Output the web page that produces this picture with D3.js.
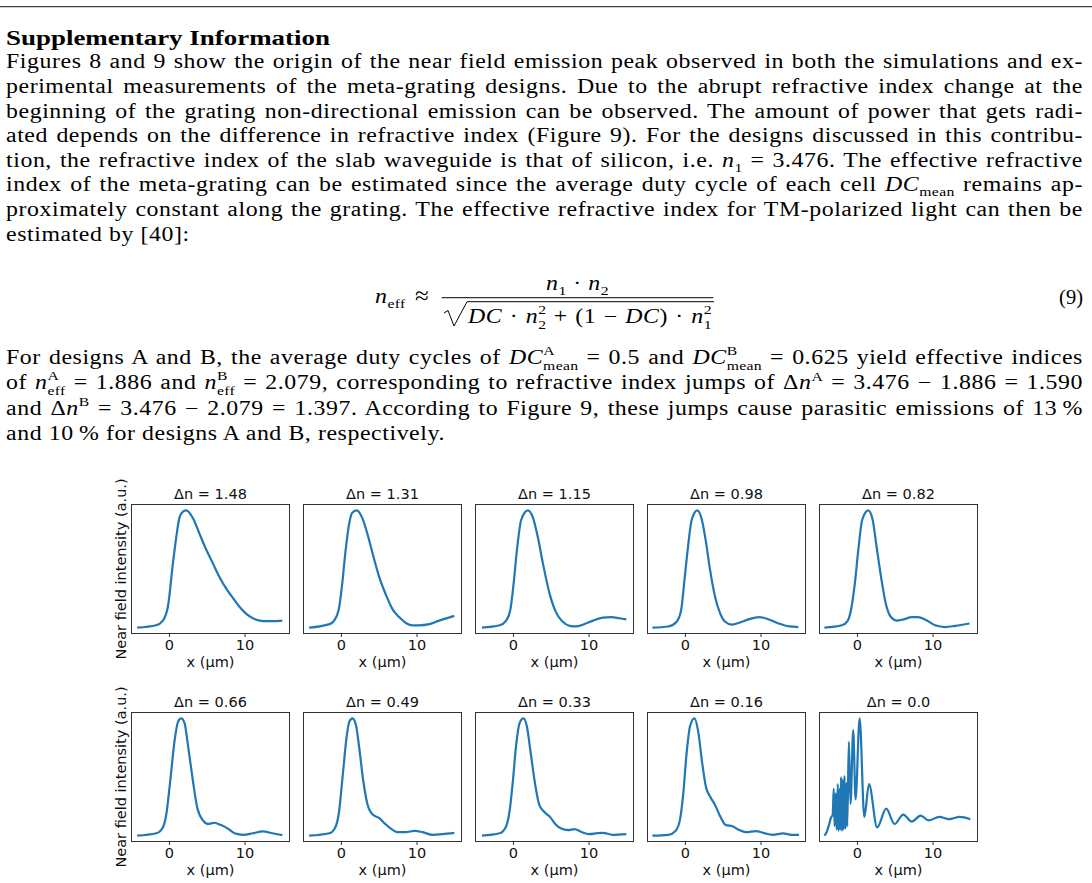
<!DOCTYPE html>
<html>
<head>
<meta charset="utf-8">
<script src="https://cdn.jsdelivr.net/npm/d3@7"></script>
<style>
  html, body { margin: 0; padding: 0; background: #fff; }
  svg { display: block; }
  .body { font-family: "Liberation Serif", "Times New Roman", serif; font-size: 20.5px; fill: #000; letter-spacing: 0.5px; }
  .plot text { font-family: "DejaVu Sans", sans-serif; font-size: 14.5px; fill: #111; }
</style>
</head>
<body>
<svg id="chart" width="1092" height="883"></svg>
<script>
// ---------------- DATA ----------------
const deltaN = ["1.48", "1.31", "1.15", "0.98", "0.82", "0.66", "0.49", "0.33", "0.16", "0.0"];
const xTicks = [0, 10];

const x_148 = [-4.2,-1.7,-0.8,-0.13,0.53,0.97,1.4,1.85,2.3,3.2,4.05,4.9,5.8,6.7,7.6,8.5,9.3,10.2,11.1,12,12.9,13.7,15];
const y_148 = [0,0.02,0.06,0.18,0.55,0.77,0.94,0.99,1.0,0.93,0.80,0.67,0.55,0.43,0.33,0.25,0.18,0.12,0.08,0.06,0.055,0.055,0.06];

const x_131 = [-4.2,-1.5,-0.9,-0.3,0.13,0.57,1.1,1.5,2.07,2.86,3.5,4.2,5.07,5.95,6.8,7.7,8.6,9.5,10.35,11.7,13,15];
const y_131 = [0,0.03,0.06,0.15,0.35,0.63,0.89,0.98,1.0,0.93,0.80,0.63,0.43,0.28,0.16,0.09,0.04,0.02,0.02,0.03,0.06,0.10];

const x_115 = [-4.1,-1.76,-0.9,-0.35,0.1,0.53,1.1,1.98,2.64,3.3,3.96,4.85,5.7,6.6,7.5,8.4,9.25,10.6,11.9,13,14.1,15];
const y_115 = [0,0.02,0.06,0.15,0.38,0.66,0.92,1.0,0.94,0.77,0.55,0.29,0.13,0.05,0.015,0.01,0.025,0.06,0.085,0.09,0.08,0.07];

const x_098 = [-4.3,-2.2,-1.1,-0.5,-0.1,0.36,0.9,1.64,2.2,2.76,3.33,4.0,4.67,5.33,6.2,7.1,8.4,9.8,11.1,12.4,13.8,15];
const y_098 = [0,0.01,0.05,0.15,0.38,0.66,0.92,1.0,0.93,0.74,0.49,0.26,0.12,0.05,0.025,0.04,0.07,0.09,0.07,0.035,0.01,0.005];

const x_082 = [-4.3,-2.0,-1.2,-0.7,-0.27,0.18,0.7,1.5,2.08,2.6,3.2,3.8,4.5,5.3,6.15,7.26,8.1,9.0,10.35,11.7,13,14.9];
const y_082 = [0,0.02,0.06,0.18,0.38,0.66,0.92,1.0,0.92,0.69,0.43,0.21,0.09,0.06,0.07,0.09,0.09,0.07,0.02,0.005,0.015,0.035];

const x_066 = [-4.2,-1.67,-0.8,-0.35,0.18,0.75,1.2,1.63,2.07,2.5,3.1,3.74,4.5,5.15,6.0,6.9,7.8,8.7,9.8,11.1,12.4,13.7,15];
const y_066 = [0,0.02,0.07,0.18,0.47,0.81,0.97,1.0,0.96,0.78,0.50,0.24,0.13,0.10,0.11,0.09,0.06,0.02,0.007,0.02,0.036,0.02,0.004];

const x_049 = [-4.2,-1.54,-0.75,-0.3,0.22,0.75,1.1,1.54,2.0,2.4,2.95,3.5,4.2,5.07,5.86,6.6,7.5,8.6,9.7,10.8,12.1,13.4,15];
const y_049 = [0,0.02,0.07,0.18,0.5,0.84,0.97,1.0,0.94,0.76,0.47,0.27,0.18,0.15,0.10,0.06,0.03,0.03,0.04,0.03,0.007,0.013,0.024];

const x_033 = [-4.1,-1.76,-0.97,-0.44,0,0.44,0.88,1.4,1.85,2.3,2.86,3.5,4.2,4.9,5.6,6.4,7.3,8.15,9.0,10.1,11.2,11.9,13.2,15];
const y_033 = [0,0.02,0.07,0.21,0.47,0.78,0.96,1.0,0.93,0.73,0.47,0.26,0.2,0.16,0.10,0.06,0.047,0.056,0.033,0.013,0.021,0.024,0.007,0.013];

const x_016 = [-4.3,-2.2,-1.25,-0.67,-0.22,0.22,0.67,1.25,1.8,2.24,2.8,3.36,4.0,4.7,5.4,6.3,7.2,8.07,9.4,10.5,11.6,13,14.1,15.1];
const y_016 = [0,0.007,0.04,0.13,0.36,0.70,0.93,1.0,0.87,0.64,0.41,0.33,0.26,0.16,0.09,0.08,0.047,0.03,0.039,0.021,0.007,0.019,0.007,0.007];

const x_000 = [-4.3,-4.0,-3.7,-3.45,-3.2,-3.07,-2.95,-2.8,-2.67,-2.53,-2.42,-2.3,-2.2,-2.1,-1.98,-1.86,-1.75,-1.64,-1.52,-1.4,-1.28,-1.07,-0.85,-0.49,-0.18,0.36,0.98,1.6,2.67,3.87,4.98,6.13,7.24,8.44,9.47,10.9,12.2,13.6,15.0];
const y_000 = [0,0.03,0.09,0.15,0.18,0.40,0.08,0.36,0.05,0.44,0.04,0.40,0.05,0.50,0.04,0.48,0.05,0.51,0.06,0.45,0.08,0.80,0.27,0.90,0.31,1.0,0.16,0.44,0.07,0.23,0.10,0.18,0.12,0.17,0.13,0.16,0.14,0.16,0.14];

const seriesX = [x_148, x_131, x_115, x_098, x_082, x_066, x_049, x_033, x_016, x_000];
const seriesY = [y_148, y_131, y_115, y_098, y_082, y_066, y_049, y_033, y_016, y_000];

// ---------------- TEXT ----------------
const heading = "Supplementary Information";
const para1 = [
  ["Figures 8 and 9 show the origin of the near field emission peak observed in both the simulations and ex-"],
  ["perimental measurements of the meta-grating designs. Due to the abrupt refractive index change at the"],
  ["beginning of the grating non-directional emission can be observed. The amount of power that gets radi-"],
  ["ated depends on the difference in refractive index (Figure 9). For the designs discussed in this contribu-"],
  ["tion, the refractive index of the slab waveguide is that of silicon, i.e. ", ["i","n"], ["sub","1"], " = 3.476. The effective refractive"],
  ["index of the meta-grating can be estimated since the average duty cycle of each cell ", ["i","DC"], ["sub","mean"], " remains ap-"],
  ["proximately constant along the grating. The effective refractive index for TM-polarized light can then be"],
  ["estimated by [40]:"]
];
const para2 = [
  ["For designs A and B, the average duty cycles of ", ["i","DC"], ["ss","A","mean"], " = 0.5 and ", ["i","DC"], ["ss","B","mean"], " = 0.625 yield effective indices"],
  ["of ", ["i","n"], ["ss","A","eff"], " = 1.886 and ", ["i","n"], ["ss","B","eff"], " = 2.079, corresponding to refractive index jumps of Δ", ["i","n"], ["sup","A"], " = 3.476 − 1.886 = 1.590"],
  ["and Δ", ["i","n"], ["sup","B"], " = 3.476 − 2.079 = 1.397. According to Figure 9, these jumps cause parasitic emissions of 13\u2009%"],
  ["and 10\u2009% for designs A and B, respectively."]
];

// ---------------- DRAW ----------------
const svg = d3.select("#chart");

svg.append("line").attr("x1", 0).attr("x2", 1092).attr("y1", 6.7).attr("y2", 6.7)
  .attr("stroke", "#444").attr("stroke-width", 1.3);

svg.append("text").attr("class", "body").attr("x", 6).attr("y", 45)
  .style("font-weight", "bold").style("letter-spacing", "0px")
  .attr("textLength", 324).attr("lengthAdjust", "spacingAndGlyphs").text(heading);

let SX = 1;  // horizontal glyph scale (Computer Modern is wider than Times)

function build(parent, segs, anchor) {
  const t = parent.append("text").attr("class", "body").attr("x", 0).attr("y", 0);
  if (anchor) t.attr("text-anchor", anchor);
  let off = 0;
  const pend = [];
  const small = (sel) => sel.attr("font-size", 13.5).style("letter-spacing", "0.3px");
  segs.forEach(s => {
    if (typeof s === "string") { t.append("tspan").attr("dy", -off).text(s); off = 0; }
    else if (s[0] === "i") { t.append("tspan").attr("dy", -off).style("font-style", "italic").text(s[1]); off = 0; }
    else if (s[0] === "sub") { small(t.append("tspan").attr("dy", 5 - off)).text(s[1]); off = 5; }
    else if (s[0] === "sup") { small(t.append("tspan").attr("dy", -8.5 - off)).text(s[1]); off = -8.5; }
    else if (s[0] === "ss") {
      const sp = small(t.append("tspan").attr("dy", -9 - off)).text(s[1]);
      const sb = small(t.append("tspan").attr("dy", 15)).text(s[2]);
      pend.push([sp, sb]); off = 6;
    }
  });
  pend.forEach(([sp, sb]) => sb.attr("dx", -sp.node().getComputedTextLength()));
  return t;
}
function rich(parent, x, y, segs, width, anchor) {
  const t = build(parent, segs, anchor);
  t.attr("transform", `translate(${x},${y}) scale(${SX},1)`);
  if (width) {
    const bb = t.node().getBBox();
    const nat = bb.x + bb.width;
    const nsp = (t.node().textContent.match(/ /g) || []).length;
    if (nsp > 0) t.style("word-spacing", ((width / SX - nat) / nsp) + "px");
  }
  return t;
}

// calibrate the glyph scale on the last line of the second paragraph (ends at x≈445)
{
  const probe = build(svg, para2[para2.length - 1]);
  const bb = probe.node().getBBox();
  SX = 439 / (bb.x + bb.width);
  probe.remove();
}

const left = 6, right = 1083;
para1.forEach((segs, i) => {
  rich(svg, left, 68.3 + 24.6 * i, segs, i < para1.length - 1 ? right - left : null);
});
const p2y = [363.5, 389, 414.5, 440];
para2.forEach((segs, i) => {
  rich(svg, left, p2y[i], segs, i < para2.length - 1 ? right - left : null);
});

// Equation
const eq = svg.append("g");
rich(eq, 375, 303, [["i","n"], ["sub","eff"]], null);
eq.append("text").attr("class", "body").attr("x", 415).attr("y", 304)
  .style("font-size", "25px").style("letter-spacing", "0px").text("≈");
eq.append("line").attr("x1", 441.7).attr("x2", 713.3).attr("y1", 297.7).attr("y2", 297.7)
  .attr("stroke", "#000").attr("stroke-width", 1);
rich(eq, 577.5, 290, [["i","n"], ["sub","1"], " · ", ["i","n"], ["sub","2"]], null, "middle");
eq.append("path").attr("d", "M444,313 L448,310.5 L454,326 L467,301.7 L714,301.7")
  .attr("fill", "none").attr("stroke", "#000").attr("stroke-width", 1);
rich(eq, 468, 323, [["i","DC"], " · ", ["i","n"], ["ss","2","2"], " + (1 − ", ["i","DC"], ") · ", ["i","n"], ["ss","2","1"]], 244);
eq.append("text").attr("class", "body").attr("x", 1083).attr("y", 304)
  .attr("text-anchor", "end").style("letter-spacing", "0px").text("(9)");

// Plots
const colLeft = i => 131.5 + 172 * i;
const rowTop = [504.5, 712.5];
const pw = 158, ph = 129;
const line = d3.line().curve(d3.curveMonotoneX);

deltaN.forEach((dn, k) => {
  const r = Math.floor(k / 5), c = k % 5;
  const x0 = colLeft(c), y0 = rowTop[r];
  const g = svg.append("g").attr("class", "plot");
  const xs = d3.scaleLinear().domain([-4.95, 15.95]).range([x0, x0 + pw]);
  const ys = d3.scaleLinear().domain([-0.05, 1.05]).range([y0 + ph, y0]);
  const pts = seriesX[k].map((v, j) => [xs(v), ys(seriesY[k][j])]);
  g.append("path").attr("d", line(pts)).attr("fill", "none")
    .attr("stroke", "#1f77b4").attr("stroke-width", 2.2).attr("stroke-linejoin", "round");
  g.append("rect").attr("x", x0).attr("y", y0).attr("width", pw).attr("height", ph)
    .attr("fill", "none").attr("stroke", "#333").attr("stroke-width", 1);
  const ax = g.append("g").attr("transform", `translate(0,${y0 + ph})`)
    .call(d3.axisBottom(xs).tickValues(xTicks).tickSize(3.5).tickPadding(2.5).tickFormat(d3.format("d")));
  ax.select(".domain").remove();
  ax.selectAll(".tick line").attr("stroke", "#333");
  ax.selectAll(".tick text").attr("fill", "#111").style("font-size", "14.5px").style("font-family", "DejaVu Sans");
  g.append("text").attr("x", x0 + pw / 2).attr("y", y0 - 5.5).attr("text-anchor", "middle").text("Δn = " + dn);
  g.append("text").attr("x", x0 + pw / 2).attr("y", y0 + ph + 33).attr("text-anchor", "middle").text("x (μm)");
  if (c === 0) {
    g.append("text").attr("transform", `translate(126,${y0 + ph / 2}) rotate(-90)`)
      .attr("text-anchor", "middle").text("Near field intensity (a.u.)");
  }
});
</script>
</body>
</html>
